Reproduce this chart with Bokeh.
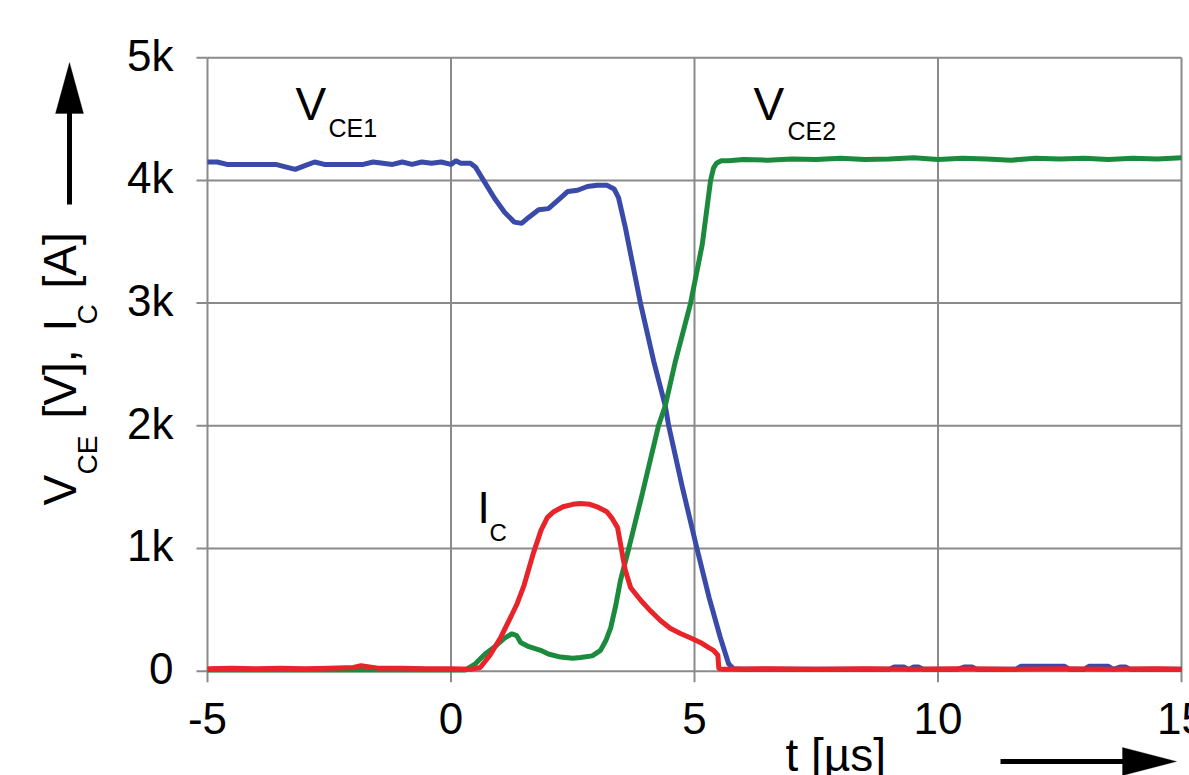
from bokeh.plotting import figure
from bokeh.models import ColumnDataSource, Label, Range1d, PolyAnnotation, Arrow
from bokeh.embed import file_html
from bokeh.resources import INLINE
import math

# ---------------- data ----------------
t_vce1 = [-5.0, -4.8, -4.6, -4.2, -3.6, -3.4, -3.2, -3.0, -2.8, -2.6, -2.2, -1.8, -1.6, -1.4,
          -1.2, -1.0, -0.8, -0.6, -0.4, -0.2, 0.0, 0.1, 0.2, 0.4, 0.5, 0.7, 0.9, 1.1, 1.3, 1.45,
          1.6, 1.8, 2.0, 2.2, 2.4, 2.6, 2.8, 3.0, 3.2, 3.35, 3.44, 3.58, 3.89, 4.16, 4.40, 4.47,
          4.75, 5.05, 5.3, 5.53, 5.7, 5.8, 6.0, 7.0, 8.0, 9.0, 9.1, 9.3, 9.4, 9.5,
          9.6, 9.7, 10.4, 10.55, 10.7, 10.8, 11.6, 11.7, 12.6, 12.7, 13.0, 13.1, 13.5, 13.6,
          13.75, 13.85, 13.95, 15.0]
v_vce1 = [4150, 4150, 4130, 4130, 4130, 4110, 4090, 4120, 4150, 4130, 4130, 4130, 4150, 4140,
          4130, 4150, 4130, 4150, 4140, 4150, 4130, 4160, 4140, 4140, 4110, 3980, 3850, 3740, 3660, 3650,
          3700, 3760, 3770, 3840, 3910, 3920, 3950, 3960, 3960, 3930, 3860, 3616, 3000, 2530, 2163, 2000,
          1500, 1000, 600, 275, 60, 20, 15, 15, 15, 15, 35, 35, 15, 35,
          35, 15, 15, 35, 35, 15, 15, 40, 40, 15, 15, 40, 40, 15,
          35, 35, 15, 15]

t_vce2 = [-5.0, 0.3, 0.5, 0.7, 0.9, 1.1, 1.25, 1.35, 1.43, 1.6, 1.84, 2.0, 2.25, 2.5, 2.66,
          2.9, 3.07, 3.18, 3.28, 3.38, 3.48, 3.65, 3.93, 4.26, 4.40, 4.61, 4.92, 5.16, 5.33,
          5.39, 5.45, 5.55, 5.7, 6.0, 6.5, 7.0, 7.5, 8.0, 8.5, 9.0, 9.5, 10.0, 10.5,
          11.0, 11.5, 12.0, 12.5, 13.0, 13.5, 14.0, 14.5, 15.0]
v_vce2 = [10, 10, 60, 140, 200, 270, 305, 290, 234, 200, 170, 140, 115, 105, 112,
          125, 170, 250, 355, 530, 740, 1000, 1450, 2000, 2163, 2530, 3000, 3480, 4000,
          4100, 4140, 4160, 4160, 4170, 4165, 4175, 4170, 4180, 4170, 4175, 4185, 4170, 4180,
          4175, 4165, 4180, 4175, 4180, 4170, 4180, 4175, 4185]

t_ic = [-5.0, -4.5, -4.0, -3.5, -3.0, -2.5, -2.0, -1.85, -1.5, -1.0, -0.5, 0.0, 0.4, 0.6, 0.8,
        1.02, 1.2, 1.36, 1.5, 1.69, 1.85, 1.98, 2.11, 2.3, 2.5, 2.66, 2.85, 3.0, 3.2, 3.3,
        3.42, 3.58, 3.69, 3.9, 4.1, 4.3, 4.5, 4.71, 4.9, 5.12, 5.3, 5.39, 5.48, 5.5,
        5.6, 6.5, 7.5, 8.5, 9.5, 10.5, 11.5, 12.5, 13.5, 14.5, 15.0]
v_ic = [20, 25, 20, 25, 20, 25, 30, 45, 25, 25, 20, 20, 15, 30, 130,
        275, 420, 552, 700, 960, 1150, 1253, 1300, 1340, 1360, 1367, 1360, 1340, 1300, 1250,
        1170, 820, 680, 576, 490, 413, 350, 307, 275, 234, 190, 170, 130, 20,
        15, 20, 15, 20, 15, 20, 15, 20, 15, 20, 15]

x_ticks = [-5, 0, 5, 10, 15]
x_tick_labels = ["-5", "0", "5", "10", "15"]
y_ticks = [0, 1000, 2000, 3000, 4000, 5000]
y_tick_labels = ["0", "1k", "2k", "3k", "4k", "5k"]
x_min, x_max = -5, 15
y_min, y_max = 0, 5000

# ---------------- layout / style ----------------
W, H = 1189, 775
FX0, FX1 = 207.0, 1181.0      # pixel x of t=-5 and t=15
FY0, FY1 = 670.7, 57.2        # pixel y of 0 and 5000
sx = (FX1 - FX0) / (x_max - x_min)
sy = (FY0 - FY1) / (y_max - y_min)
SHIFT = 0.4                   # baseline compensation (fraction of font size)

def px2t(X):
    return x_min + (X - FX0) / sx

def px2v(Y):
    return y_min + (FY0 - Y) / sy

BLUE = "#3a4aa8"
GREEN = "#1c8a3d"
RED = "#e8232a"
GRID = "#8a8a8a"
FONT = "Liberation Sans"
TICK_FS = 44

p = figure(width=W, height=H, output_backend="svg", toolbar_location=None,
           x_range=Range1d(px2t(0), px2t(W)), y_range=Range1d(px2v(H), px2v(0)),
           x_axis_location=None, y_axis_location=None,
           min_border=0, min_border_left=0, min_border_right=0,
           min_border_top=0, min_border_bottom=0)
p.background_fill_color = "white"
p.border_fill_color = "white"
p.outline_line_color = None
p.grid.visible = False

# grid lines (also form the frame)
p.segment(x0=x_ticks, y0=[y_min] * len(x_ticks), x1=x_ticks, y1=[y_max] * len(x_ticks),
          line_color=GRID, line_width=2)
p.segment(x0=[x_min] * len(y_ticks), y0=y_ticks, x1=[x_max] * len(y_ticks), y1=y_ticks,
          line_color=GRID, line_width=2)
# outward ticks
p.ray(x=[x_min] * len(y_ticks), y=y_ticks, length=11, length_units="screen", angle=math.pi,
      line_color=GRID, line_width=2)
p.ray(x=x_ticks, y=[y_min] * len(x_ticks), length=11, length_units="screen", angle=-math.pi / 2,
      line_color=GRID, line_width=2)
# tick labels
p.text(x=[x_min] * len(y_ticks), y=y_ticks, text=y_tick_labels, x_offset=-34,
       y_offset=15 - SHIFT * TICK_FS,
       text_align="right", text_baseline="alphabetic", text_font={"value": FONT},
       text_font_size=f"{TICK_FS}px", text_color="black")
p.text(x=x_ticks, y=[y_min] * len(x_ticks), text=x_tick_labels, x_offset=0,
       y_offset=65 - SHIFT * TICK_FS,
       text_align="center", text_baseline="alphabetic", text_font={"value": FONT},
       text_font_size=f"{TICK_FS}px", text_color="black")

# data
p.line("t", "v", source=ColumnDataSource(dict(t=t_vce1, v=v_vce1)), line_color=BLUE, line_width=5)
p.line("t", "v", source=ColumnDataSource(dict(t=t_vce2, v=v_vce2)), line_color=GREEN, line_width=5)
p.line("t", "v", source=ColumnDataSource(dict(t=t_ic, v=v_ic)), line_color=RED, line_width=5)

def lab(X, Y, text, size, angle=0.0):
    if angle:
        X = X - SHIFT * size
    else:
        Y = Y - SHIFT * size
    p.add_layout(Label(x=px2t(X), y=px2v(Y), text=text, text_font=FONT,
                       text_font_size=f"{size}px", text_color="black",
                       text_baseline="alphabetic", text_align="left", angle=angle))

# in-plot labels
lab(295, 122, "V", 46)
lab(328, 137, "CE1", 25)
lab(753, 122, "V", 46)
lab(787, 140, "CE2", 25)
lab(477, 525, "I", 44)
lab(489, 542, "C", 24)

# rotated y-axis label
r = math.pi / 2
lab(78, 505, "V", 46, r)
lab(98, 474, "CE", 28, r)
lab(78, 418, "[V],", 46, r)
lab(78, 331, "I", 46, r)
lab(98, 324, "C", 28, r)
lab(78, 288, "[A]", 46, r)

# x-axis label
lab(785, 773, "t [µs]", 46)

# arrows (shaft + triangular head)
p.add_layout(Arrow(x_start=px2t(69), y_start=px2v(204), x_end=px2t(69), y_end=px2v(110),
                   line_color="black", line_width=5, end=None))
p.add_layout(PolyAnnotation(xs=[px2t(55), px2t(69), px2t(83)], ys=[px2v(113), px2v(62), px2v(113)],
                            fill_color="black", fill_alpha=1.0, line_color="black", line_width=1))
p.add_layout(Arrow(x_start=px2t(1000), y_start=px2v(761), x_end=px2t(1125), y_end=px2v(761),
                   line_color="black", line_width=5, end=None))
p.add_layout(PolyAnnotation(xs=[px2t(1122), px2t(1176), px2t(1122)], ys=[px2v(747), px2v(761), px2v(775)],
                            fill_color="black", fill_alpha=1.0, line_color="black", line_width=1))

open("out.html", "w").write(file_html(p, INLINE))
